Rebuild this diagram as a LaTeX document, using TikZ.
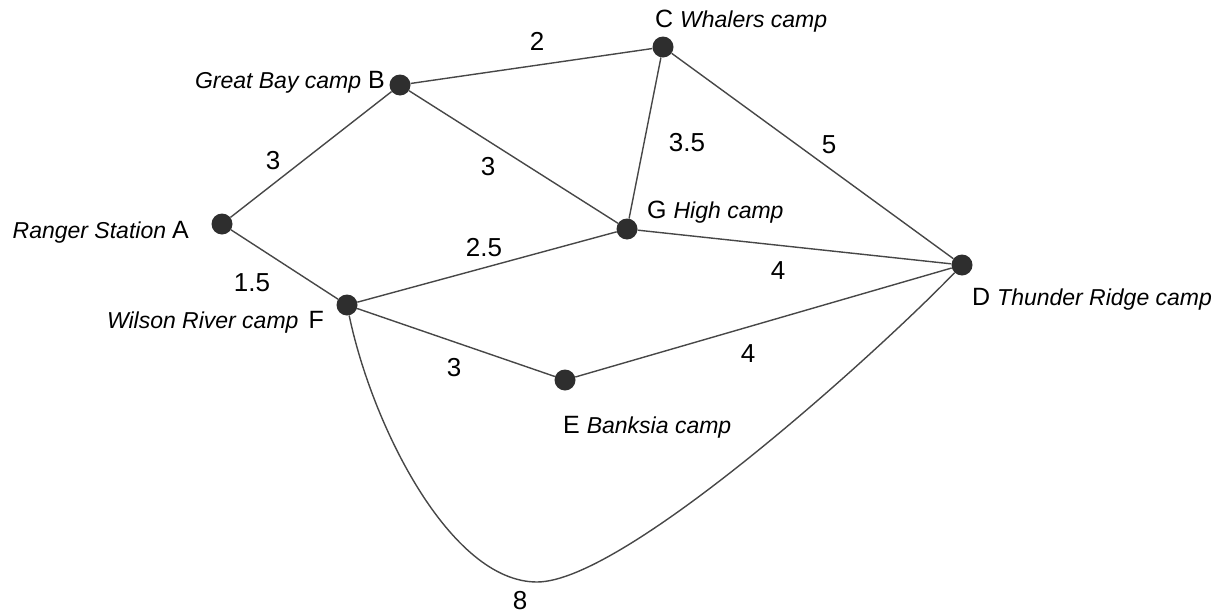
\documentclass[tikz,border=0pt]{standalone}
\usepackage{fontspec}
\setmainfont{Liberation Sans}

\newcommand\campname[1]{{\fontsize{23}{27}\selectfont\itshape #1}}

\tikzset{
	camp/.style={circle, fill=black!82, inner sep=0pt, minimum size=21pt},
	road/.style={draw=black!72, line width=1.4pt},
	weight/.style={font=\fontsize{26}{30}\selectfont, inner sep=0pt},
	tag/.style={font=\fontsize{25}{29}\selectfont, inner sep=0pt}
}

\begin{document}
\begin{tikzpicture}[x=1pt, y=-1pt]
		\useasboundingbox (0,0) rectangle (1219,616);

		% camps
		\node[camp] (A) at (222,224) {};
		\node[camp] (B) at (400,85) {};
		\node[camp] (C) at (663,47) {};
		\node[camp] (G) at (627,229) {};
		\node[camp] (D) at (962,265) {};
		\node[camp] (F) at (347,305) {};
		\node[camp] (E) at (565,380) {};
		\coordinate (low) at (537,582);

		% roads
		\draw[road] (A) -- (B);
		\draw[road] (A) -- (F);
		\draw[road] (B) -- (C);
		\draw[road] (B) -- (G);
		\draw[road] (C) -- (G);
		\draw[road] (C) -- (D);
		\draw[road] (G) -- (D);
		\draw[road] (F) -- (G);
		\draw[road] (F) -- (E);
		\draw[road] (E) -- (D);
		\draw[road] (F) .. controls (372,425) and (450,582) .. (low)
			.. controls (625,582) and (880,350) .. (D);

		% distances
		\node[weight] (wAB) at (273,161) {3};
		\node[weight] (wAF) at (252,283) {1.5};
		\node[weight] (wBC) at (537,41) {2};
		\node[weight] (wBG) at (488,167) {3};
		\node[weight] (wCG) at (687,143) {3.5};
		\node[weight] (wCD) at (829,145) {5};
		\node[weight] (wFG) at (484,248) {2.5};
		\node[weight] (wGD) at (778,271) {4};
		\node[weight] (wFE) at (454,368) {3};
		\node[weight] (wED) at (748,354) {4};
		\node[weight] (wFD) at (520,601) {8};

		% names
		\node[tag, anchor=base east] (tA) at (189,238) {\campname{Ranger Station}\hspace{6pt}A};
		\node[tag, anchor=base east] (tF) at (324,328) {\campname{Wilson River camp}\hspace{10pt}F};
		\node[tag, anchor=base east] (tB) at (385,88) {\campname{Great Bay camp} B};
		\node[tag, anchor=base west] (tC) at (655,27) {C \campname{Whalers camp}};
		\node[tag, anchor=base west] (tG) at (647,218) {G \campname{High camp}};
		\node[tag, anchor=base west] (tD) at (972,305) {D \campname{Thunder Ridge camp}};
		\node[tag, anchor=base west] (tE) at (563,433) {E \campname{Banksia camp}};
	\end{tikzpicture}
\end{document}
